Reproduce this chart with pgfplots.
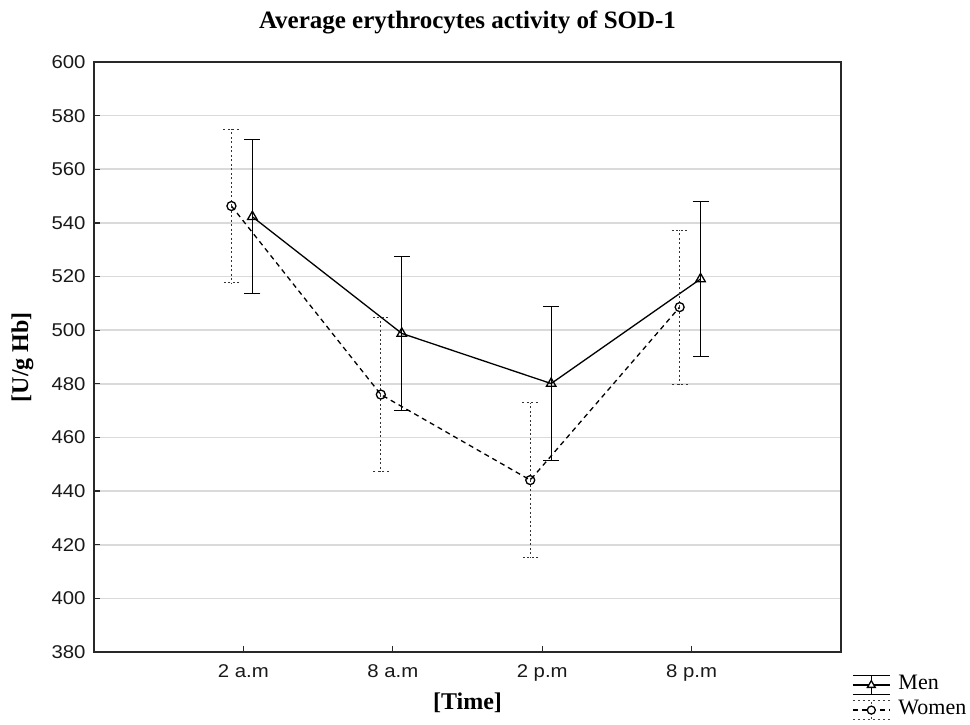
\documentclass[border=0pt]{standalone}
\usepackage{pgfplots}
\pgfplotsset{compat=1.18}
\usepackage{fontspec}
\setmainfont{Liberation Serif}
\newfontfamily\arialf[FakeStretch=1.1]{Liberation Sans}
\definecolor{gridgray}{RGB}{218,218,218}
\definecolor{axisgray}{RGB}{40,40,40}

\begin{document}
\begin{tikzpicture}[x=1pt,y=1pt]
\useasboundingbox (-94,-72) rectangle (876,652);
\begin{axis}[
  at={(0pt,0pt)}, anchor=south west,
  scale only axis, width=747pt, height=590pt,
  xmin=0, xmax=5, ymin=380, ymax=600,
  xtick={1,2,3,4}, xticklabels={2 a.m,8 a.m,2 p.m,8 p.m},
  ytick={380,400,...,600},
  /pgf/number format/assume math mode=true,
  ticklabel style={font=\arialf\fontsize{18.5}{20}\selectfont, text=black!90},
  yticklabel style={xshift=-5pt},
  xticklabel style={yshift=-9pt},
  ymajorgrids, grid style={gridgray, line width=1.6pt},
  axis line style={line width=1.6pt, axisgray},
  tick style={axisgray, line width=1.2pt},
  tick align=inside, major tick length=6pt, tick pos=left,
  title={Average erythrocytes activity of SOD-1},
  title style={at={(axis description cs:0.5,1.0576)}, anchor=center,
    font=\bfseries\fontsize{25}{28}\selectfont},
  xlabel={[Time]},
  xlabel style={at={(axis description cs:0.5,-0.0864)}, anchor=center,
    font=\bfseries\fontsize{24}{28}\selectfont},
  ylabel={[U/g Hb]},
  ylabel style={at={(axis description cs:-0.0957,0.5)}, anchor=center, rotate=0,
    font=\bfseries\fontsize{24}{28}\selectfont},
  legend style={at={(axis description cs:1.0147,-0.038)}, anchor=north west,
    draw=none, fill=none, inner sep=0pt, row sep=5pt,
    font=\fontsize{22}{24}\selectfont,
    nodes={inner sep=0pt, text height=14pt, text depth=5pt},
    /tikz/every odd column/.append style={column sep=8pt}},
  legend cell align=left,
]
\addplot+[black, solid, line width=1.3pt, mark=triangle, mark size=5.5pt,
  mark options={solid, fill=white, line width=1.3pt},
  legend image code/.code={
    \draw[solid, black, line width=1pt] (0pt,10pt) -- (37pt,10pt);
    \draw[solid, black, line width=1pt] (0pt,-9.5pt) -- (37pt,-9.5pt);
    \draw[solid, black, line width=1pt] (18.5pt,-9.5pt) -- (18.5pt,10pt);
    \draw[solid, black, line width=1.3pt] (0pt,0pt) -- (37pt,0pt);
    \draw[solid, black, line width=1.2pt, fill=white] plot[mark=triangle*, mark size=4.5pt] coordinates {(18.5pt,0pt)};
  },
  error bars/.cd, y dir=both, y explicit,
  error bar style={solid, line width=1pt, black},
  error mark options={solid, line width=1pt, black, mark size=8pt, rotate=90},
  ]
  coordinates {
  (1.06,542.3) +- (0,28.7)
  (2.06,498.8) +- (0,28.6)
  (3.06,480.1) +- (0,28.6)
  (4.06,519.1) +- (0,28.8)
  };
\addlegendentry{Men}
\addplot+[black, dash pattern=on 5pt off 4pt, line width=1.3pt, mark=o, mark size=4.5pt,
  mark options={solid, fill=white, line width=1.3pt},
  legend image code/.code={
    \draw[black!75, line width=1pt, dash pattern=on 2.5pt off 2.5pt] (0pt,9.5pt) -- (37pt,9.5pt);
    \draw[black!75, line width=1pt, dash pattern=on 2.5pt off 2.5pt] (0pt,-9pt) -- (37pt,-9pt);
    \draw[black!75, line width=1pt, dash pattern=on 2.5pt off 2.5pt] (18.5pt,-9pt) -- (18.5pt,9.5pt);
    \draw[black, line width=1.3pt, dash pattern=on 5pt off 4pt] (0pt,0pt) -- (37pt,0pt);
    \draw[solid, black, line width=1.2pt, fill=white] plot[mark=*, mark size=4pt] coordinates {(18.5pt,0pt)};
  },
  error bars/.cd, y dir=both, y explicit,
  error bar style={dash pattern=on 2pt off 2.5pt, line width=1pt, black!80},
  error mark options={dash pattern=on 2pt off 2.5pt, line width=1pt, black!80, mark size=8pt, rotate=90},
  ]
  coordinates {
  (0.92,546.3) +- (0,28.7)
  (1.92,476.0) +- (0,28.8)
  (2.92,444.1) +- (0,28.9)
  (3.92,508.6) +- (0,28.7)
  };
\addlegendentry{Women}
\end{axis}
\end{tikzpicture}
\end{document}
